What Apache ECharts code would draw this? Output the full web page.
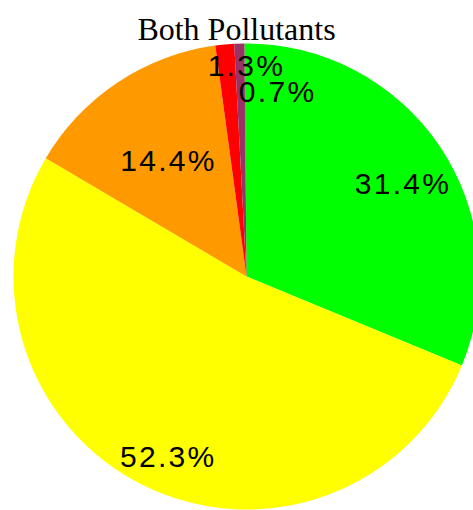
<!DOCTYPE html>
<html>
<head>
<meta charset="utf-8">
<script src="https://cdn.jsdelivr.net/npm/echarts@6/dist/echarts.min.js"></script>
<style>
  html, body { margin: 0; padding: 0; background: #fff; }
  #chart { width: 473px; height: 510px; }
  /* widen the percentage labels a little */
  #chart text[style*="Liberation Sans"] { letter-spacing: 2.3px; }
</style>
</head>
<body>
<div id="chart"></div>
<script>
// Share of days in each air-quality category
const categories = ['Good', 'Moderate', 'Unhealthy for Sensitive Groups', 'Unhealthy', 'Very Unhealthy'];
const shares = [31.4, 52.3, 14.4, 1.3, 0.7];

// Slice colours, in category order
const sliceColors = ['#00ff00', '#ffff00', '#ff9900', '#ff0000', '#993366'];
// Label distance from the centre (fraction of radius) and a nudge for crowded labels
const labelDistance = [0.77, 0.81, 0.605, 0.9, 0.8];
const labelNudge = [[4, 10], [8, 7], [2, 4], [20, 3], [37, 6]];

const CX = 246.5, CY = 276.5, R = 233;

const chart = echarts.init(document.getElementById('chart'), null, { renderer: 'svg' });
chart.setOption({
  animation: false,
  title: {
    text: 'Both Pollutants',
    left: 'center',
    top: 8,
    textStyle: { fontFamily: 'Liberation Serif', fontWeight: 'normal', fontSize: 32, color: '#000' }
  },
  series: [{
    type: 'pie',
    center: [CX, CY],
    radius: [0, R],
    startAngle: 90.5,
    clockwise: true,
    silent: true,
    data: categories.map((name, i) => ({ name, value: shares[i], itemStyle: { color: sliceColors[i] } })),
    itemStyle: { borderWidth: 0 },
    label: {
      show: true,
      position: 'inside',
      formatter: '{c}%',
      fontFamily: 'Liberation Sans',
      fontSize: 30,
      color: '#000',
      textBorderWidth: 0
    },
    labelLine: { show: false },
    labelLayout(p) {
      const r = p.labelRect;
      const lx = r.x + r.width / 2, ly = r.y + r.height / 2;
      const k = labelDistance[p.dataIndex] / 0.5;
      const n = labelNudge[p.dataIndex];
      return {
        x: CX + (lx - CX) * k + n[0],
        y: CY + (ly - CY) * k + n[1],
        align: 'center',
        verticalAlign: 'middle'
      };
    }
  }]
});
</script>
</body>
</html>
